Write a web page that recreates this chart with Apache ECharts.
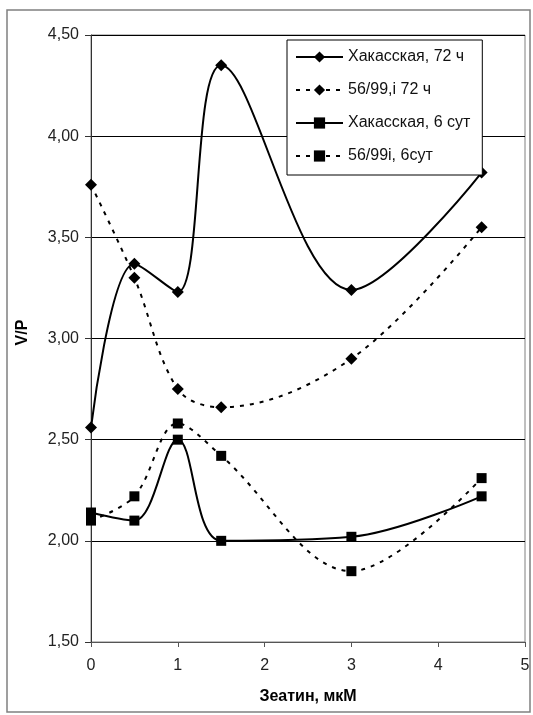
<!DOCTYPE html>
<html>
<head>
<meta charset="utf-8">
<script src="https://cdn.jsdelivr.net/npm/echarts@6/dist/echarts.min.js"></script>
<style>
  html, body { margin: 0; padding: 0; background: #fff; }
  #chart { width: 533px; height: 715px; }
</style>
</head>
<body>
<div id="chart"></div>
<script>
// Zeatin concentration, µM
const zeatin = [0, 0.5, 1, 1.5, 3, 4.5];

// V/P ratio per line and exposure time
const khakas72h = [2.56, 3.37, 3.23, 4.35, 3.24, 3.82];
const line5699_72h = [3.76, 3.30, 2.75, 2.66, 2.90, 3.55];
const khakas6d = [2.14, 2.10, 2.50, 2.00, 2.02, 2.22];
const line5699_6d = [2.10, 2.22, 2.58, 2.42, 1.85, 2.31];

const seriesNames = ['Хакасская, 72 ч', '56/99,i 72 ч', 'Хакасская, 6 сут', '56/99i, 6сут'];

// Axis ranges
const yMin = 1.5, yMax = 4.5, yStep = 0.5;
const xMin = 0, xMax = 5, xStep = 1;

const FONT = '"Liberation Sans", Arial, sans-serif';
const pairs = arr => zeatin.map((x, i) => [x, arr[i]]);

function makeSeries(name, values, symbol, dashed) {
  return {
    name: name,
    type: 'line',
    data: pairs(values),
    smooth: 0.35,
    symbol: symbol,
    symbolSize: symbol === 'rect' ? 10 : 12,
    showSymbol: true,
    itemStyle: { color: '#000' },
    lineStyle: { color: '#000', width: 2, type: dashed ? [4, 6] : 'solid' },
    emphasis: { disabled: true }
  };
}

const chart = echarts.init(document.getElementById('chart'), null, { renderer: 'canvas' });
chart.setOption({
  animation: false,
  backgroundColor: '#fff',
  textStyle: { fontFamily: FONT },
  graphic: [{
    type: 'rect',
    shape: { x: 7, y: 10, width: 523, height: 702 },
    style: { fill: 'none', stroke: '#808080', lineWidth: 1.5 },
    silent: true,
    z: -1
  }],
  grid: {
    left: 91, right: 8, top: 35, bottom: 73,
    show: true, borderColor: '#808080', borderWidth: 1
  },
  legend: {
    orient: 'vertical',
    left: 287, top: 40,
    padding: [9, 12, 11, 8],
    itemWidth: 47, itemHeight: 14, itemGap: 17,
    backgroundColor: '#fff',
    borderColor: '#000', borderWidth: 1,
    textStyle: { fontFamily: FONT, fontSize: 16, color: '#111' },
    data: seriesNames
  },
  xAxis: {
    type: 'value',
    min: xMin, max: xMax, interval: xStep,
    name: 'Зеатин, мкМ',
    nameLocation: 'middle',
    nameGap: 47,
    nameTextStyle: { fontFamily: FONT, fontSize: 16, fontWeight: 'bold', color: '#000' },
    axisLine: { lineStyle: { color: '#555', width: 1 } },
    axisTick: { show: true, inside: false, length: 5, lineStyle: { color: '#555' } },
    axisLabel: { fontFamily: FONT, fontSize: 16, color: '#222', margin: 16 },
    splitLine: { show: false }
  },
  yAxis: {
    type: 'value',
    min: yMin, max: yMax, interval: yStep,
    name: 'V/P',
    nameLocation: 'middle',
    nameGap: 60,
    nameTextStyle: { fontFamily: FONT, fontSize: 16, fontWeight: 'bold', color: '#000', padding: [0, 0, 0, 12] },
    axisLine: { show: true, lineStyle: { color: '#333', width: 1 } },
    axisTick: { show: true, inside: false, length: 6, lineStyle: { color: '#333' } },
    axisLabel: {
      fontFamily: FONT, fontSize: 16, color: '#222', margin: 12,
      formatter: v => v.toFixed(2).replace('.', ',')
    },
    splitLine: { show: true, lineStyle: { color: '#000', width: 1 } }
  },
  series: [
    makeSeries(seriesNames[0], khakas72h, 'diamond', false),
    makeSeries(seriesNames[1], line5699_72h, 'diamond', true),
    makeSeries(seriesNames[2], khakas6d, 'rect', false),
    makeSeries(seriesNames[3], line5699_6d, 'rect', true)
  ]
});
</script>
</body>
</html>
